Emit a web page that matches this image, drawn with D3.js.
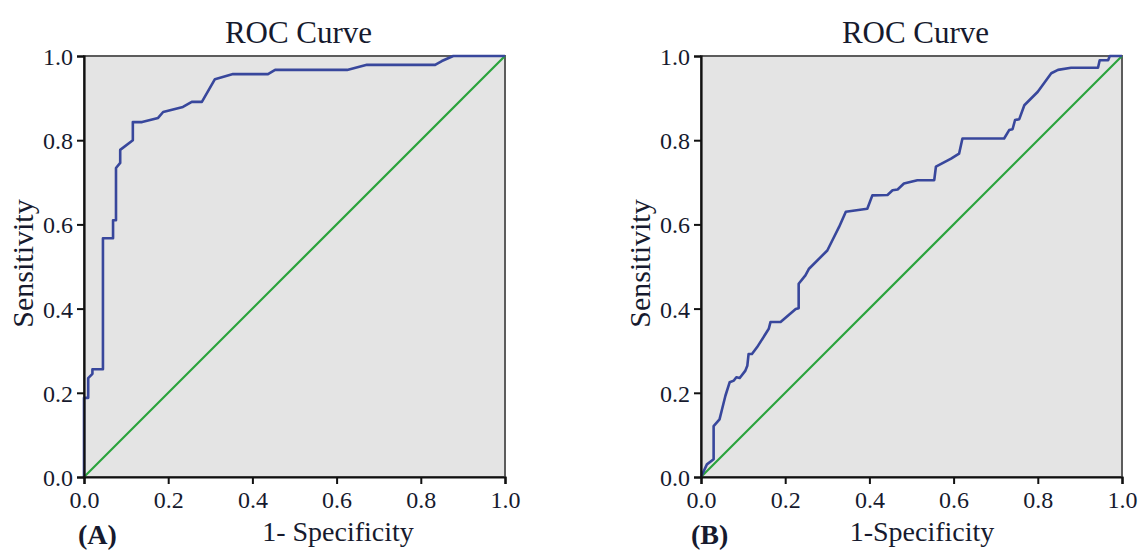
<!DOCTYPE html>
<html>
<head>
<meta charset="utf-8">
<script src="https://cdn.jsdelivr.net/npm/d3@7"></script>
<style>
  body { margin: 0; background: #fff; }
  text { font-family: "Liberation Serif", "DejaVu Serif", serif; fill: #161a2e; }
</style>
</head>
<body>
<div id="chart-area"></div>
<script>
const width = 1142;
const height = 550;

// panel A
const fprA = [0, 0, 0.01, 0.01, 0.02, 0.02, 0.045, 0.045, 0.069, 0.069, 0.076, 0.076, 0.086, 0.086, 0.116, 0.116, 0.138, 0.176, 0.188, 0.235, 0.256, 0.28, 0.311, 0.354, 0.437, 0.454, 0.625, 0.672, 0.834, 0.85, 0.877, 1];
const tprA = [0, 0.188, 0.188, 0.235, 0.245, 0.256, 0.256, 0.567, 0.567, 0.61, 0.61, 0.734, 0.746, 0.777, 0.80, 0.843, 0.843, 0.853, 0.867, 0.879, 0.891, 0.891, 0.945, 0.957, 0.957, 0.967, 0.967, 0.979, 0.979, 0.988, 1, 1];

// panel B
const fprB = [0, 0.014, 0.03, 0.03, 0.044, 0.05, 0.058, 0.068, 0.078, 0.084, 0.092, 0.105, 0.11, 0.113, 0.121, 0.133, 0.161, 0.165, 0.189, 0.225, 0.232, 0.232, 0.248, 0.256, 0.30, 0.308, 0.328, 0.344, 0.395, 0.407, 0.443, 0.455, 0.467, 0.482, 0.514, 0.554, 0.558, 0.594, 0.613, 0.621, 0.72, 0.732, 0.74, 0.746, 0.756, 0.768, 0.80, 0.832, 0.848, 0.879, 0.943, 0.947, 0.967, 0.971, 1];
const tprB = [0, 0.03, 0.042, 0.121, 0.137, 0.161, 0.193, 0.225, 0.229, 0.237, 0.235, 0.252, 0.264, 0.292, 0.292, 0.308, 0.352, 0.368, 0.368, 0.399, 0.401, 0.459, 0.479, 0.494, 0.538, 0.554, 0.594, 0.63, 0.637, 0.669, 0.67, 0.681, 0.683, 0.697, 0.705, 0.705, 0.737, 0.756, 0.768, 0.804, 0.804, 0.824, 0.826, 0.848, 0.85, 0.883, 0.915, 0.959, 0.967, 0.972, 0.972, 0.99, 0.99, 1, 1];

const tickValues = [0, 0.2, 0.4, 0.6, 0.8, 1.0];
const refLine = [0, 1];

const svg = d3.select("#chart-area")
    .append("svg")
    .attr("width", width)
    .attr("height", height);

const size = 421;

function drawPanel(left, fpr, tpr, xLabel, labelX, tag, tagX) {
    const top = 56;
    const g = svg.append("g").attr("transform", `translate(${left}, ${top})`);

    const x = d3.scaleLinear().domain([0, 1]).range([0, size]);
    const y = d3.scaleLinear().domain([0, 1]).range([size, 0]);

    g.append("rect")
        .attr("width", size)
        .attr("height", size)
        .attr("fill", "#e4e4e4")
        .attr("stroke", "#5c5c5c")
        .attr("stroke-width", 2);

    // chance line
    g.append("path")
        .datum(refLine)
        .attr("d", d3.line().x(d => x(d)).y(d => y(d)))
        .attr("fill", "none")
        .attr("stroke", "#2aa33c")
        .attr("stroke-width", 2.2);

    const pts = fpr.map((f, i) => [f, tpr[i]]);
    g.append("path")
        .datum(pts)
        .attr("d", d3.line().x(d => x(d[0])).y(d => y(d[1])))
        .attr("fill", "none")
        .attr("stroke", "#38479c")
        .attr("stroke-width", 2.6)
        .attr("stroke-linejoin", "round");

    const xAxis = g.append("g")
        .attr("transform", `translate(0, ${size})`)
        .call(d3.axisBottom(x).tickValues(tickValues).tickFormat(d3.format(".1f")).tickSize(7).tickPadding(7));
    const yAxis = g.append("g")
        .call(d3.axisLeft(y).tickValues(tickValues).tickFormat(d3.format(".1f")).tickSize(7).tickPadding(4));

    [xAxis, yAxis].forEach(a => {
        a.attr("font-family", null);
        a.select(".domain").attr("stroke", "#111").attr("stroke-width", 2.2);
        a.selectAll(".tick line").attr("stroke", "#111").attr("stroke-width", 2);
        a.selectAll(".tick text")
            .style("font-family", "'Liberation Serif', serif")
            .style("font-size", "24px")
            .attr("fill", "#161a2e");
    });
    yAxis.selectAll(".tick text").attr("dy", "0.35em");

    g.append("text")
        .attr("x", size / 2 + 4)
        .attr("y", -13)
        .attr("text-anchor", "middle")
        .style("font-size", "31px")
        .text("ROC Curve");

    g.append("text")
        .attr("x", labelX)
        .attr("y", size + 64)
        .attr("text-anchor", "middle")
        .style("font-size", "28px")
        .text(xLabel);

    g.append("text")
        .attr("transform", `translate(-51, ${size / 2 - 3}) rotate(-90)`)
        .attr("text-anchor", "middle")
        .style("font-size", "30px")
        .text("Sensitivity");

    g.append("text")
        .attr("x", tagX)
        .attr("y", size + 67)
        .style("font-size", "28px")
        .style("font-weight", "bold")
        .text(tag);
}

drawPanel(84, fprA, tprA, "1- Specificity", 254, "(A)", -6);
drawPanel(701, fprB, tprB, "1-Specificity", 221, "(B)", -10);
</script>
</body>
</html>
